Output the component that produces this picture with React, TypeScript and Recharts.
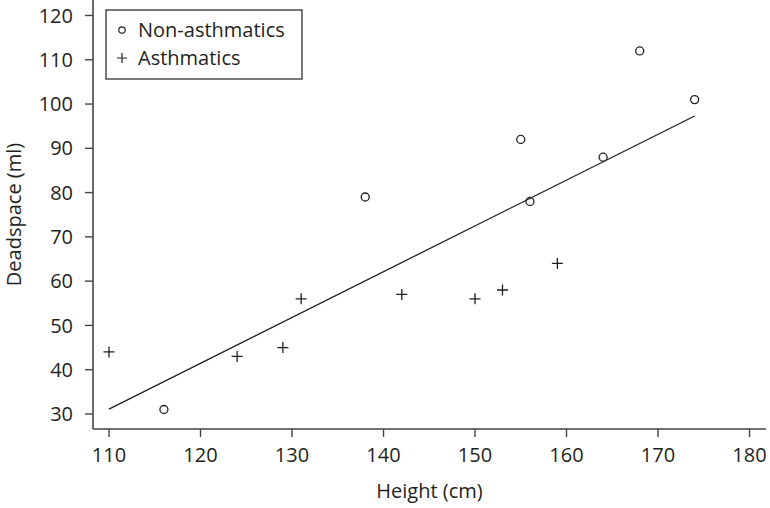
import React from 'react';
import { ScatterChart, Scatter, XAxis, YAxis, ReferenceLine } from 'recharts';

// heights (cm) and deadspace (ml)
const nonAsthmaHeight = [116, 138, 155, 156, 164, 168, 174];
const nonAsthmaDeadspace = [31, 79, 92, 78, 88, 112, 101];
const asthmaHeight = [110, 124, 129, 131, 142, 150, 153, 159];
const asthmaDeadspace = [44, 43, 45, 56, 57, 56, 58, 64];

// fitted line end points
const fitLine = [
  { x: 110, y: 31.1 },
  { x: 174, y: 97.3 },
];

const xTicks = [110, 120, 130, 140, 150, 160, 170, 180];
const yTicks = [30, 40, 50, 60, 70, 80, 90, 100, 110, 120];

const nonAsthma = nonAsthmaHeight.map((h, i) => ({ x: h, y: nonAsthmaDeadspace[i] }));
const asthma = asthmaHeight.map((h, i) => ({ x: h, y: asthmaDeadspace[i] }));

const INK = '#231f20';
const FONT = '"Open Sans", "Noto Sans", sans-serif';
const FS = 20;

const Circle = (props: any) => {
  const { cx, cy } = props;
  return <circle cx={cx} cy={cy} r={4} fill="none" stroke={INK} strokeWidth={1.3} />;
};

const Plus = (props: any) => {
  const { cx, cy } = props;
  return (
    <path
      d={`M${cx - 5.5},${cy}H${cx + 5.5}M${cx},${cy - 5.5}V${cy + 5.5}`}
      stroke={INK}
      strokeWidth={1.3}
      fill="none"
    />
  );
};

const YLabel = (props: any) => {
  const { viewBox } = props;
  const cy = viewBox.y + viewBox.height / 2;
  return (
    <text transform={`translate(21,${cy}) rotate(-90)`} textAnchor="middle" fontSize={FS} fill={INK}>
      Deadspace (ml)
    </text>
  );
};

// boxed key, laid over the plot so it doesn't take chart space
const KeyBox = () => (
  <svg width={198} height={71} style={{ position: 'absolute', left: 105, top: 9 }}>
    <rect x={1} y={1} width={196} height={69} fill="#fff" stroke={INK} strokeWidth={1.2} />
    <circle cx={17} cy={21} r={3.2} fill="none" stroke={INK} strokeWidth={1.2} />
    <text x={33} y={28} fontSize={FS} fill={INK} fontFamily={FONT}>Non-asthmatics</text>
    <path d="M12,49H22M17,44V54" stroke={INK} strokeWidth={1.2} />
    <text x={33} y={56} fontSize={FS} fill={INK} fontFamily={FONT}>Asthmatics</text>
  </svg>
);

const App = () => {
  return (
    <div style={{ position: 'relative', width: 770, height: 508, background: '#fff' }}>
      <style>{'body{margin:0}'}</style>
      <ScatterChart
        width={770}
        height={508}
        margin={{ top: 0, right: 4, left: 0, bottom: 0 }}
        style={{ fontFamily: FONT }}
      >
        <XAxis
          type="number"
          dataKey="x"
          domain={[108.25, 181.8]}
          ticks={xTicks}
          allowDataOverflow
          height={79}
          tickSize={8}
          tickMargin={11}
          axisLine={{ stroke: '#444', strokeWidth: 1.6 }}
          tickLine={{ stroke: '#444', strokeWidth: 1.4 }}
          tick={{ fill: INK, fontSize: FS }}
          label={{ value: 'Height (cm)', position: 'insideBottom', offset: 10, fill: INK, fontSize: FS }}
        />
        <YAxis
          type="number"
          dataKey="y"
          domain={[26.6, 123.5]}
          ticks={yTicks}
          allowDataOverflow
          width={93}
          tickSize={8}
          tickMargin={12}
          axisLine={{ stroke: '#444', strokeWidth: 1.6 }}
          tickLine={{ stroke: '#444', strokeWidth: 1.4 }}
          tick={{ fill: INK, fontSize: FS }}
          label={<YLabel />}
        />
        <ReferenceLine segment={fitLine} stroke={INK} strokeWidth={1.3} ifOverflow="visible" />
        <Scatter name="Non-asthmatics" data={nonAsthma} shape={<Circle />} isAnimationActive={false} />
        <Scatter name="Asthmatics" data={asthma} shape={<Plus />} isAnimationActive={false} />
      </ScatterChart>
      <KeyBox />
    </div>
  );
};

export default App;
